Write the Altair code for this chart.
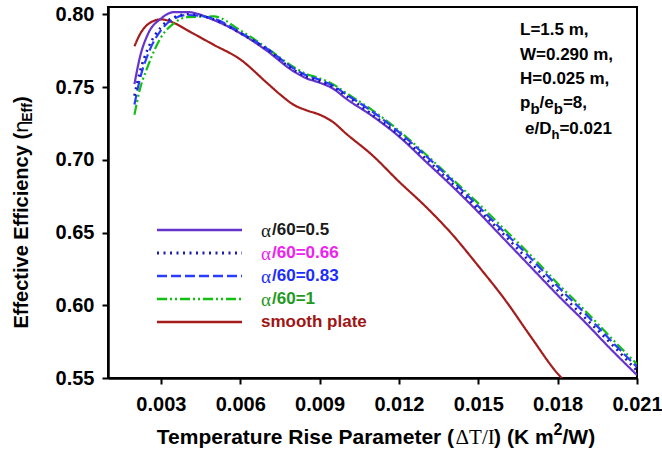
import altair as alt
import pandas as pd

# ---------------- data ----------------
x_ribbed = [0.0020, 0.0022, 0.0025, 0.0030, 0.0035, 0.0040, 0.0050, 0.0060, 0.0070,
            0.0080, 0.0085, 0.0090, 0.0095, 0.0100, 0.0110, 0.0120, 0.0130, 0.0140,
            0.0150, 0.0160, 0.0170, 0.0180, 0.0190, 0.0200, 0.0210]
eff_050 = [0.752, 0.770, 0.786, 0.797, 0.8015, 0.8015, 0.796, 0.787, 0.775, 0.761, 0.756,
           0.753, 0.749, 0.742, 0.730, 0.716, 0.699, 0.682, 0.664, 0.645, 0.626, 0.607,
           0.589, 0.570, 0.552]
eff_066 = [0.744, 0.760, 0.776, 0.791, 0.798, 0.800, 0.7965, 0.787, 0.776, 0.762, 0.757,
           0.754, 0.750, 0.744, 0.731, 0.717, 0.701, 0.684, 0.666, 0.648, 0.629, 0.610,
           0.592, 0.574, 0.555]
eff_083 = [0.738, 0.755, 0.772, 0.789, 0.797, 0.7995, 0.797, 0.7875, 0.7765, 0.763, 0.758,
           0.755, 0.751, 0.745, 0.733, 0.719, 0.703, 0.686, 0.668, 0.650, 0.632, 0.613,
           0.595, 0.576, 0.5575]
eff_100 = [0.731, 0.748, 0.764, 0.784, 0.794, 0.798, 0.7985, 0.789, 0.777, 0.764, 0.759,
           0.756, 0.752, 0.746, 0.734, 0.720, 0.704, 0.687, 0.670, 0.652, 0.634, 0.615,
           0.597, 0.578, 0.5595]
x_smooth = [0.0020, 0.0022, 0.0025, 0.0030, 0.0035, 0.0040, 0.0045, 0.0050, 0.0060, 0.0070,
            0.0075, 0.0080, 0.0085, 0.0090, 0.0095, 0.0100, 0.0110, 0.0120, 0.0130, 0.0140,
            0.0150, 0.0160, 0.0170, 0.0180, 0.0182]
eff_smooth = [0.778, 0.786, 0.793, 0.7965, 0.794, 0.789, 0.784, 0.779, 0.769, 0.753, 0.745,
              0.738, 0.734, 0.731, 0.726, 0.718, 0.703, 0.685, 0.668, 0.649, 0.627, 0.604,
              0.578, 0.553, 0.549]

series_names = ["α/60=0.5", "α/60=0.66", "α/60=0.83", "α/60=1", "smooth plate"]
series_x = [x_ribbed, x_ribbed, x_ribbed, x_ribbed, x_smooth]
series_y = [eff_050, eff_066, eff_083, eff_100, eff_smooth]
line_colors = ["#6633cc", "#1a1ab4", "#2a3cff", "#12c012", "#a51c1c"]
label_colors = ["#1a1a1a", "#f020f0", "#1c2cff", "#1f9a1f", "#a01414"]
dashes = [[1, 0], [2, 4.5], [10, 4], [10, 3, 2, 3, 2, 3], [1, 0]]

x_ticks = [0.003, 0.006, 0.009, 0.012, 0.015, 0.018, 0.021]
y_ticks = [0.55, 0.60, 0.65, 0.70, 0.75, 0.80]
notes = ["L=1.5 m,", "W=0.290 m,", "H=0.025 m,"]

# ---------------- layout helpers ----------------
W, H = 529, 371
LEFT, TOP = 108, 7
SANS = "Liberation Sans"
SERIF = "Liberation Serif"

AW = {"T": .611, "e": .556, "m": .889, "p": .611, "r": .389, "a": .556, "t": .333, "u": .611,
      " ": .278, "R": .722, "i": .278, "s": .556, "P": .667, "(": .333, ")": .333, "K": .722,
      "/": .278, "W": .944, "E": .667, "f": .333, "c": .556, "v": .556, "n": .611, "y": .556,
      "b": .611, "=": .584, "8": .556, ",": .278, "D": .722, "h": .611, "0": .556, ".": .278,
      "2": .556, "1": .556, "6": .556, "3": .556, "5": .556}


def tw(s, size):
    return sum(AW.get(ch, .556) for ch in s) * size


def txt(s, sx, sy, size, color="black", font=SANS, weight="bold", angle=0, style="normal"):
    return alt.Chart().mark_text(
        text=s, font=font, fontSize=size, fontWeight=weight, fontStyle=style, color=color,
        align="left", baseline="middle", angle=angle
    ).encode(x=alt.value(sx - LEFT), y=alt.value(sy - TOP))


xs = alt.Scale(domain=[0.001, 0.021], nice=False, zero=False)
ys = alt.Scale(domain=[0.55, 0.805], nice=False, zero=False)

AX = dict(grid=False, domainColor="black", domainWidth=2.5, tickColor="black", tickWidth=2,
          tickSize=6, labelFont=SANS, labelFontWeight="bold", labelFontSize=20,
          labelColor="black", title=None, labelFlush=False, labelOverlap=False)

layers = []
for i in range(5):
    df = pd.DataFrame({"x": series_x[i], "y": series_y[i]})
    base = alt.Chart(df).mark_line(
        clip=True, color=line_colors[i], strokeWidth=2.2 if i != 1 else 2.6,
        strokeDash=dashes[i], interpolate="monotone"
    ).encode(
        x=alt.X("x:Q", scale=xs,
                axis=alt.Axis(values=x_ticks, format=".3f", labelPadding=10, **AX)),
        y=alt.Y("y:Q", scale=ys,
                axis=alt.Axis(values=y_ticks, format=".2f", labelPadding=8, **AX)),
    )
    layers.append(base)

draw_order = [4, 0, 3, 2, 1]
lines = [layers[k] for k in draw_order]

# ---------------- legend (manual, inside plot) ----------------
leg = []
for i in range(5):
    ly = 230 + 23 * i
    leg.append(alt.Chart().mark_rule(
        color=line_colors[i], strokeWidth=2.4 if i != 1 else 2.8, strokeDash=dashes[i]
    ).encode(x=alt.value(157 - LEFT), x2=alt.value(242 - LEFT), y=alt.value(ly - TOP)))
    name = series_names[i]
    if name.startswith("α"):
        leg.append(txt("α", 261, ly + 1, 19, label_colors[i], font=SERIF, weight="normal"))
        leg.append(txt(name[1:], 272, ly, 17, label_colors[i]))
    else:
        leg.append(txt(name, 261, ly, 17, label_colors[i]))

# ---------------- parameter box ----------------
ann = []
NS = 17
for j, s in enumerate(notes):
    ann.append(txt(s, 520, 30 + 24.5 * j, NS))
y4 = 103
x0 = 520
ann.append(txt("p", x0, y4, NS)); x0 += tw("p", NS)
ann.append(txt("b", x0, y4 + 6, 15)); x0 += tw("b", 15)
ann.append(txt("/e", x0, y4, NS)); x0 += tw("/e", NS)
ann.append(txt("b", x0, y4 + 6, 15)); x0 += tw("b", 15)
ann.append(txt("=8,", x0, y4, NS))
y5 = 129
x0 = 525
ann.append(txt("e/D", x0, y5, NS)); x0 += tw("e/D", NS)
ann.append(txt("h", x0, y5 + 6, 13)); x0 += tw("h", 13)
ann.append(txt("=0.021", x0, y5, NS))

# ---------------- axis titles (rich text) ----------------
TS = 21
p1 = "Temperature Rise Parameter ("
p2 = "ΔT/I"
p3 = ") (K m"
p4 = "2"
p5 = "/W)"
w2 = (0.612 + 0.611 + 0.278 + 0.333) * TS
total = tw(p1, TS) + w2 + tw(p3, TS) + tw(p4, 16) + tw(p5, TS)
xt = 376 - total / 2
ty = 438
ttl = []
ttl.append(txt(p1, xt, ty, TS)); xt += tw(p1, TS)
ttl.append(txt(p2, xt, ty, TS, font=SERIF, weight="normal")); xt += w2
ttl.append(txt(p3, xt, ty, TS)); xt += tw(p3, TS)
ttl.append(txt(p4, xt, ty - 8, 16)); xt += tw(p4, 16)
ttl.append(txt(p5, xt, ty, TS))

YS = 20
q1 = "Effective Efficiency ("
q2 = "η"
q3 = "Eff"
q4 = ")"
wq2 = 0.56 * YS
ytotal = tw(q1, YS) + wq2 + tw(q3, 14) + tw(q4, YS)
cx = 22
yy = (TOP + H / 2) + ytotal / 2 + 20
ttl.append(txt(q1, cx, yy, YS, angle=270)); yy -= tw(q1, YS)
ttl.append(txt(q2, cx, yy, YS, font="DejaVu Sans", weight="normal", angle=270)); yy -= wq2
ttl.append(txt(q3, cx + 6, yy, 14, angle=270)); yy -= tw(q3, 14)
ttl.append(txt(q4, cx, yy, YS, angle=270))

chart = alt.layer(*lines, *leg, *ann, *ttl).properties(
    width=W, height=H,
    background="white",
    autosize=alt.AutoSizeParams(type="none"),
    padding={"left": LEFT, "top": TOP, "right": 662 - LEFT - W, "bottom": 466 - TOP - H},
).configure_view(
    stroke="black", strokeWidth=2
)

chart.save("out.html", embed_options={"renderer": "svg", "actions": False})
